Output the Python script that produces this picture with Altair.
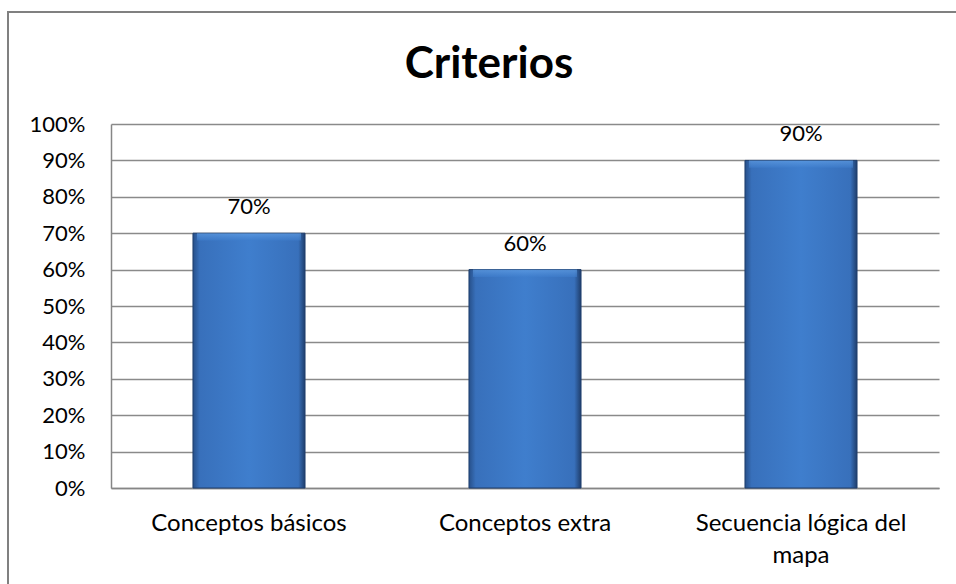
import altair as alt
import pandas as pd

categories = ["Conceptos básicos", "Conceptos extra", "Secuencia lógica del mapa"]
values = [0.70, 0.60, 0.90]
y_ticks = [0, 0.1, 0.2, 0.3, 0.4, 0.5, 0.6, 0.7, 0.8, 0.9, 1.0]
chart_title = "Criterios"

df = pd.DataFrame({"cat": categories, "val": values})

FONT = "Lato"

x_enc = alt.X(
    "cat:N", sort=categories, title=None,
    scale=alt.Scale(paddingInner=0.594, paddingOuter=0.297),
    axis=alt.Axis(
        labelAngle=0, labelFont=FONT, labelFontSize=24, labelColor="#000000",
        labelBaseline="alphabetic", labelPadding=42, labelLineHeight=32, labelLimit=0,
        labelExpr="datum.value == 'Secuencia lógica del mapa' ? ['Secuencia lógica del', 'mapa'] : datum.value",
        ticks=False, domainColor="#868686", domainWidth=1.5, grid=False,
    ),
)

y_axis = alt.Axis(
    values=y_ticks, format=".0%", labelFont=FONT, labelFontSize=22,
    labelColor="#000000", labelPadding=26, ticks=False, labelOverlap=False,
    domainColor="#868686", domainWidth=1.5,
    grid=True, gridColor="#8a8a8a", gridWidth=1.5,
)
y_scale = alt.Scale(domain=[0, 1], nice=False)
y_enc = alt.Y("val:Q", title=None, scale=y_scale, axis=y_axis)

bar_gradient = alt.Gradient(
    gradient="linear", x1=0, x2=1, y1=0, y2=0,
    stops=[
        alt.GradientStop(offset=0, color="#27508a"),
        alt.GradientStop(offset=0.06, color="#3870bb"),
        alt.GradientStop(offset=0.5, color="#3f7ecd"),
        alt.GradientStop(offset=0.94, color="#3870bb"),
        alt.GradientStop(offset=1, color="#1f3e6c"),
    ],
)
bevel_gradient = alt.Gradient(
    gradient="linear", x1=0, x2=0, y1=0, y2=1,
    stops=[
        alt.GradientStop(offset=0, color="#6aa8ec"),
        alt.GradientStop(offset=1, color="#3f7ecd"),
    ],
)

base = alt.Chart(df)

bars = base.mark_bar(color=bar_gradient, stroke="#1f3f6e", strokeWidth=1).encode(x=x_enc, y=y_enc)

bevel = base.transform_calculate(low="datum.val - 0.02").mark_bar(
    color=bevel_gradient, opacity=0.55, size=104
).encode(
    x=alt.X("cat:N", sort=categories),
    y=alt.Y("val:Q", scale=y_scale, axis=y_axis, title=None),
    y2="low:Q",
)

labels = base.mark_text(
    font=FONT, fontSize=22, color="#000000", baseline="alphabetic", dy=-19
).encode(
    x=alt.X("cat:N", sort=categories),
    y=alt.Y("val:Q", scale=y_scale, axis=y_axis, title=None),
    text=alt.Text("val:Q", format=".0%"),
)

title_df = pd.DataFrame({"t": [chart_title]})
title_mark = alt.Chart(title_df).mark_text(
    font=FONT, fontSize=44, fontWeight="bold", color="#000000",
    baseline="alphabetic", align="center",
).encode(x=alt.value(378), y=alt.value(-46), text="t:N")

border_df = pd.DataFrame({"k": [0]})
left_border = alt.Chart(border_df).mark_rule(color="#808080", strokeWidth=2, clip=False).encode(
    x=alt.value(-103), y=alt.value(-112), y2=alt.value(480)
)
top_border = alt.Chart(border_df).mark_rule(color="#808080", strokeWidth=2, clip=False).encode(
    x=alt.value(-104), x2=alt.value(860), y=alt.value(-112)
)

chart = alt.layer(bars, bevel, labels, title_mark, left_border, top_border).properties(
    width=828, height=364,
    padding={"left": 111, "top": 124, "right": 17, "bottom": 96},
    autosize=alt.AutoSizeParams(type="none"),
    background="white",
).configure_view(stroke=None)

chart.save("out.html", embed_options={"renderer": "svg", "actions": False})
